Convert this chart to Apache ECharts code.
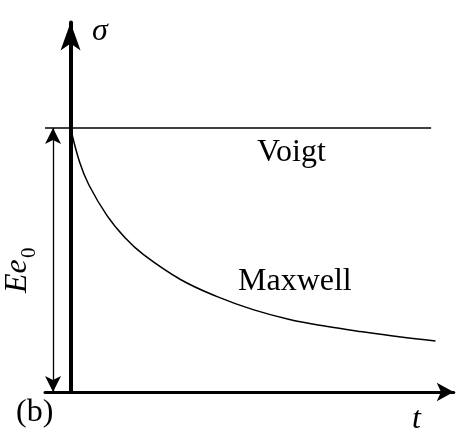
<!DOCTYPE html>
<html>
<head>
<meta charset="utf-8">
<script src="https://cdn.jsdelivr.net/npm/echarts@6/dist/echarts.min.js"></script>
<style>
  html, body { margin: 0; padding: 0; background: #fff; }
  #chart { width: 464px; height: 432px; }
</style>
</head>
<body>
<div id="chart"></div>
<script>
// Stress relaxation under a constant strain e0: sigma normalised by E*e0, time in relaxation units
const voigtT = [-0.7, 9.88];
const voigtSigma = [1, 1];

const maxwellT = [0, 0.25, 0.5, 1, 1.5, 2, 3, 4, 5, 6, 7, 8, 9, 10];
const maxwellSigma = [1, 0.87, 0.785, 0.668, 0.583, 0.52, 0.427, 0.362, 0.312, 0.275, 0.249, 0.228, 0.209, 0.193];

// Dimension arrow marking the level E·e0
const strainArrowT = -0.48;
const strainArrowRange = [0, 1];

const serif = '"Liberation Serif", "DejaVu Serif", serif';

const chart = echarts.init(document.getElementById('chart'), null, { renderer: 'canvas' });

chart.setOption({
  animation: false,
  backgroundColor: '#fff',
  grid: { left: 45, right: 10.25, top: 22.4, bottom: 40 },
  xAxis: {
    type: 'value',
    min: -0.7,
    max: 10.5,
    axisLine: {
      show: true,
      symbol: ['none', 'arrow'],
      symbolSize: [14, 17],
      lineStyle: { color: '#000', width: 3 }
    },
    axisTick: { show: false },
    axisLabel: { show: false },
    splitLine: { show: false }
  },
  yAxis: {
    type: 'value',
    min: 0,
    max: 1.4,
    axisLine: {
      show: true,
      onZero: true,
      symbol: ['none', 'arrow'],
      symbolSize: [15, 28],
      lineStyle: { color: '#000', width: 4 }
    },
    axisTick: { show: false },
    axisLabel: { show: false },
    splitLine: { show: false }
  },
  series: [
    {
      name: 'Voigt',
      type: 'line',
      data: voigtT.map((t, i) => [t, voigtSigma[i]]),
      symbol: 'none',
      lineStyle: { color: '#000', width: 1.5 },
      markLine: {
        silent: true,
        symbol: ['arrow', 'arrow'],
        symbolSize: [12, 16],
        label: { show: false },
        lineStyle: { color: '#000', width: 1.3, type: 'solid' },
        data: [[
          { coord: [strainArrowT, strainArrowRange[0]] },
          { coord: [strainArrowT, strainArrowRange[1]] }
        ]]
      }
    },
    {
      name: 'Maxwell',
      type: 'line',
      data: maxwellT.map((t, i) => [t, maxwellSigma[i]]),
      symbol: 'none',
      smooth: 0.4,
      lineStyle: { color: '#000', width: 1.5 }
    }
  ],
  graphic: [
    { type: 'text', left: 92, top: 16, style: { text: 'σ', font: 'italic 32px ' + serif, fill: '#000' } },
    { type: 'text', left: 412, top: 404, style: { text: 't', font: 'italic 32px ' + serif, fill: '#000' } },
    { type: 'text', left: 16, top: 397, style: { text: '(b)', font: '32px ' + serif, fill: '#000' } },
    { type: 'text', left: 257, top: 137, style: { text: 'Voigt', font: '32px ' + serif, fill: '#000' } },
    { type: 'text', left: 238, top: 266, style: { text: 'Maxwell', font: '32px ' + serif, fill: '#000' } },
    { type: 'text', x: 34, y: 293, rotation: Math.PI / 2, style: { text: 'Ee', font: 'italic 32px ' + serif, fill: '#000', textVerticalAlign: 'bottom' } },
    { type: 'text', x: 40, y: 258, rotation: Math.PI / 2, style: { text: '0', font: '21px ' + serif, fill: '#000', textVerticalAlign: 'bottom' } }
  ]
});
</script>
</body>
</html>
